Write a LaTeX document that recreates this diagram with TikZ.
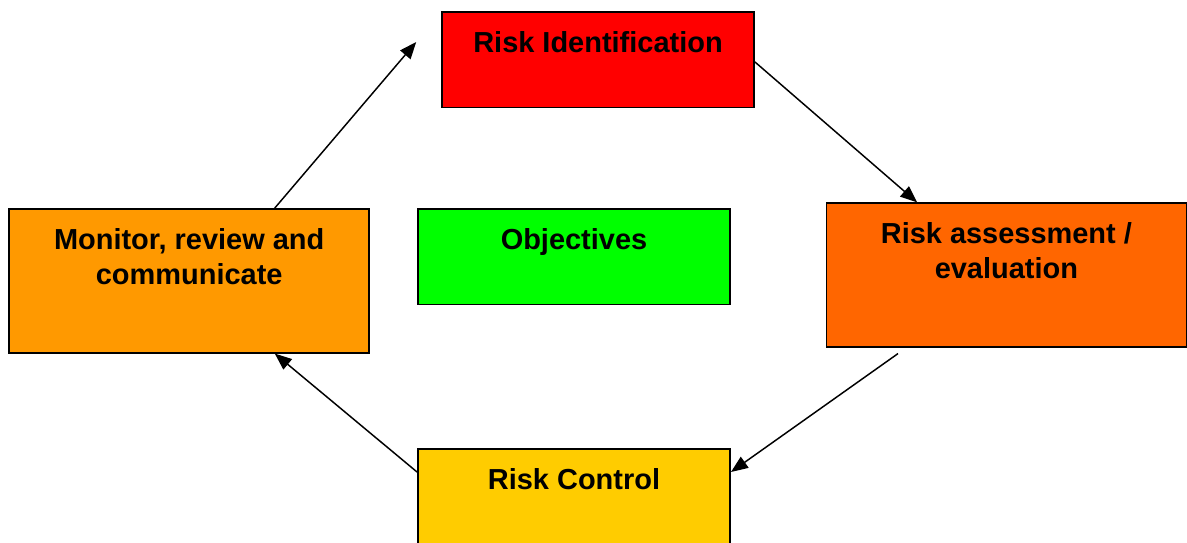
\documentclass[tikz,border=0pt]{standalone}
\usepackage{fontspec}
\setmainfont{Liberation Sans}
\usepackage{xcolor}
\usetikzlibrary{arrows.meta,positioning,calc}
\definecolor{identred}   {RGB}{255,0,0}
\definecolor{objgreen}   {RGB}{0,255,0}
\definecolor{monorange}  {RGB}{255,153,0}
\definecolor{assessorange}{RGB}{255,102,0}
\definecolor{ctrlyellow} {RGB}{255,204,0}

\begin{document}
\begin{tikzpicture}[
      font=\fontsize{20.6}{24.9}\selectfont\bfseries,
      riskbox/.style={rectangle, draw=black, fill=#1, line width=1.1pt,
        minimum width=7.81cm, minimum height=2.39cm, inner sep=0pt},
      widebox/.style={riskbox=#1, minimum width=9.0cm, minimum height=3.6cm},
      title/.style={anchor=north, inner sep=0pt, yshift=-0.5cm, align=center},
      arr/.style={-{Triangle[length=12pt,width=9.5pt]}, line width=1.05pt, color=black},
    ]
    \useasboundingbox (0,0) rectangle (29.675,-13.575);

    % ── BOXES ───────────────────────────────────────────────────
    \node[riskbox=identred, label={[title]north:Risk Identification}] (ident) at (14.95,-1.49) {};
    \node[riskbox=objgreen, label={[title]north:Objectives}] (obj) at (14.35,-6.42) {};
    \node[widebox=monorange, label={[title]north:Monitor, review and\\communicate}] (monitor) at (4.73,-7.02) {};
    \node[widebox=assessorange, label={[title]north:Risk assessment /\\evaluation}] (assess) at (25.16,-6.88) {};
    \node[riskbox=ctrlyellow, label={[title]north:Risk Control}] (control) at (14.35,-12.42) {};

    % ── CYCLE ARROWS ────────────────────────────────────────────
    \coordinate (identin) at ($(ident.west)+(-0.62,0.44)$);
    \coordinate (assessout) at ($(assess.south)+(-2.71,-0.14)$);

    \draw[arr] ([xshift=2.14cm]monitor.north) -- (identin);
    \draw[arr] ([yshift=-0.06cm]ident.east) -- ([xshift=-2.23cm]assess.north);
    \draw[arr] (assessout) -- ([yshift=0.62cm]control.east);
    \draw[arr] ([yshift=0.62cm]control.west) -- ([xshift=2.14cm]monitor.south);

    \end{tikzpicture}
\end{document}
